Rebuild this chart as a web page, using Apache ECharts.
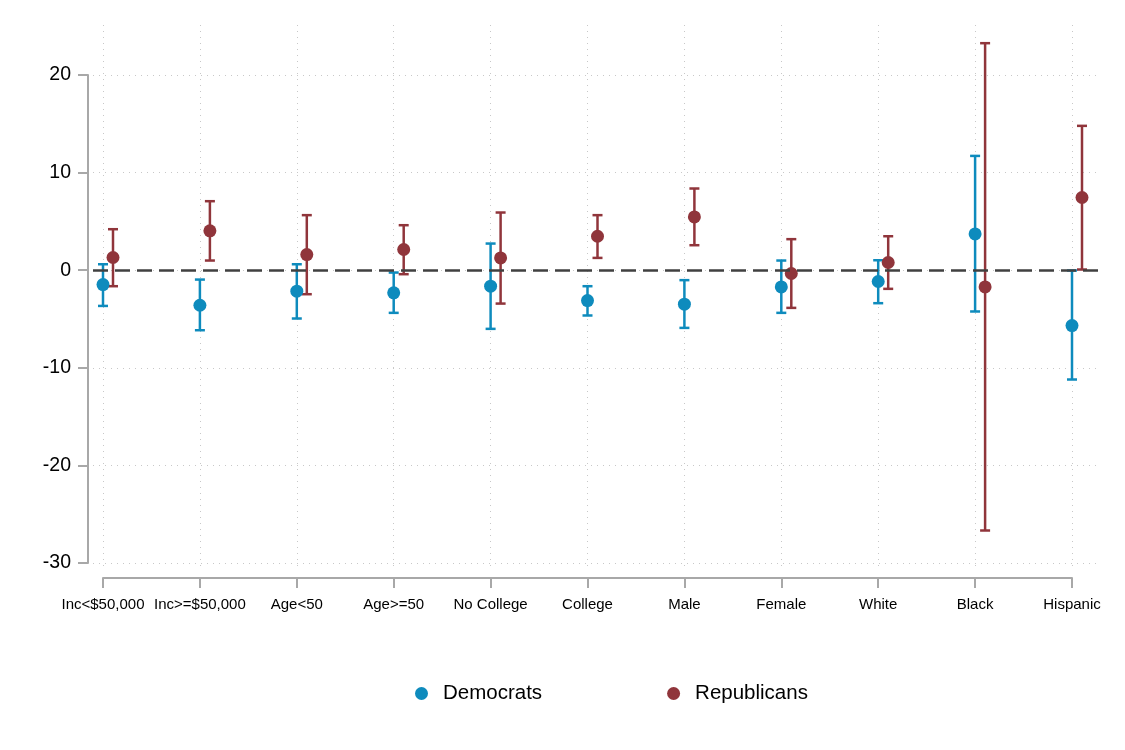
<!DOCTYPE html>
<html>
<head>
<meta charset="utf-8">
<script src="https://cdn.jsdelivr.net/npm/echarts@6/dist/echarts.min.js"></script>
<style>html,body{margin:0;padding:0;background:#fff}#c{width:1125px;height:750px}</style>
</head>
<body>
<div id="c"></div>
<script>
const categories = ["Inc<$50,000","Inc>=$50,000","Age<50","Age>=50","No College","College","Male","Female","White","Black","Hispanic"];
const demEst = [-1.47,-3.59,-2.15,-2.32,-1.64,-3.11,-3.48,-1.71,-1.16,3.72,-5.67];
const demLo  = [-3.66,-6.15,-4.95,-4.37,-6.01,-4.64,-5.91,-4.37,-3.38,-4.23,-11.2];
const demHi  = [0.61,-0.96,0.61,-0.24,2.73,-1.64,-1.02,0.99,1.02,11.71,-0.03];
const repEst = [1.30,4.03,1.60,2.12,1.26,3.48,5.46,-0.34,0.79,-1.71,7.45];
const repLo  = [-1.64,0.99,-2.46,-0.41,-3.42,1.26,2.56,-3.86,-1.91,-26.67,0.07];
const repHi  = [4.20,7.07,5.64,4.61,5.91,5.64,8.37,3.18,3.48,23.26,14.79];
const yTicks = [-30,-20,-10,0,10,20];

const DEM = '#0e8bbd', REP = '#90353b';
const FONT = '"Liberation Sans", Arial, sans-serif';
const dotted = {color:'#c8c8c8', width:1, type:[1,5]};
const axisGray = {color:'#a8a8a8', width:2};

function errBar(color, offset){
  return function(params, api){
    const i = api.value(0);
    const lo = api.coord([i, api.value(1)]);
    const hi = api.coord([i, api.value(2)]);
    const x = lo[0] + offset;
    const cw = 5;
    const st = {stroke: color, lineWidth: 2.5, fill: null};
    return {type:'group', children:[
      {type:'line', shape:{x1:x,y1:lo[1],x2:x,y2:hi[1]}, style:st},
      {type:'line', shape:{x1:x-cw,y1:lo[1],x2:x+cw,y2:lo[1]}, style:st},
      {type:'line', shape:{x1:x-cw,y1:hi[1],x2:x+cw,y2:hi[1]}, style:st}
    ]};
  };
}

const chart = echarts.init(document.getElementById('c'), null, {renderer:'canvas'});
chart.setOption({
  animation:false,
  color:[DEM, REP],
  textStyle:{fontFamily:FONT},
  grid:[
    {left:103, right:53, top:75, bottom:187},   // data grid
    {left:103, right:53, top:25, bottom:180},   // vertical grid lines
    {left:93, right:27, top:75, bottom:187},    // horizontal grid lines + zero line
    {left:103, right:53, top:25, bottom:172}    // x axis line, ticks, labels
  ],
  xAxis:[
    {gridIndex:0, type:'category', data:categories, boundaryGap:false, show:false},
    {gridIndex:1, type:'category', data:categories, boundaryGap:false,
      axisLine:{show:false}, axisTick:{show:false}, axisLabel:{show:false},
      splitLine:{show:true, interval:0, lineStyle:dotted}},
    {gridIndex:2, type:'value', min:0, max:1, show:false},
    {gridIndex:3, type:'category', data:categories, boundaryGap:false,
      axisLine:{show:true, lineStyle:axisGray},
      axisTick:{show:true, length:10, interval:0, lineStyle:axisGray},
      axisLabel:{show:true, interval:0, color:'#000', fontSize:15, margin:19, fontFamily:FONT},
      splitLine:{show:false}}
  ],
  yAxis:[
    {gridIndex:0, type:'value', min:-30, max:20, interval:10, offset:15,
      axisLine:{show:true, lineStyle:axisGray},
      axisTick:{show:true, length:10, lineStyle:axisGray},
      axisLabel:{show:true, color:'#000', fontSize:19.5, margin:17, fontFamily:FONT,
        formatter:v=> yTicks.includes(v) ? String(v) : ''},
      splitLine:{show:false}},
    {gridIndex:1, type:'value', min:0, max:1, show:false},
    {gridIndex:2, type:'value', min:-30, max:20, interval:10,
      axisLine:{show:false}, axisTick:{show:false}, axisLabel:{show:false},
      splitLine:{show:true, lineStyle:dotted}},
    {gridIndex:3, type:'value', min:0, max:1, show:false}
  ],
  legend:{
    data:['Democrats','Republicans'], left:410, top:678, itemGap:125,
    icon:'circle', itemWidth:13, itemHeight:13,
    textStyle:{fontSize:20.5, color:'#000', fontFamily:FONT, padding:[0,0,0,10]}
  },
  series:[
    {type:'scatter', xAxisIndex:2, yAxisIndex:2, data:[], silent:true,
      markLine:{symbol:'none', silent:true, label:{show:false},
        lineStyle:{color:'#404040', width:2.5, type:[15,7]},
        data:[{yAxis:0}]}},
    {type:'custom', name:'Democrats', xAxisIndex:0, yAxisIndex:0, clip:false,
      itemStyle:{color:DEM},
      renderItem:errBar(DEM, 0),
      encode:{x:0, y:[1,2]},
      data:categories.map((c,i)=>[i, demLo[i], demHi[i]]), z:3},
    {type:'custom', name:'Republicans', xAxisIndex:0, yAxisIndex:0, clip:false,
      itemStyle:{color:REP},
      renderItem:errBar(REP, 10),
      encode:{x:0, y:[1,2]},
      data:categories.map((c,i)=>[i, repLo[i], repHi[i]]), z:3},
    {type:'scatter', name:'Democrats', xAxisIndex:0, yAxisIndex:0, clip:false,
      symbol:'circle', symbolSize:13, itemStyle:{color:DEM, opacity:1},
      data:categories.map((c,i)=>[i, demEst[i]]), z:4},
    {type:'scatter', name:'Republicans', xAxisIndex:0, yAxisIndex:0, clip:false,
      symbol:'circle', symbolSize:13, symbolOffset:[10,0], itemStyle:{color:REP, opacity:1},
      data:categories.map((c,i)=>[i, repEst[i]]), z:4}
  ]
});
</script>
</body>
</html>
